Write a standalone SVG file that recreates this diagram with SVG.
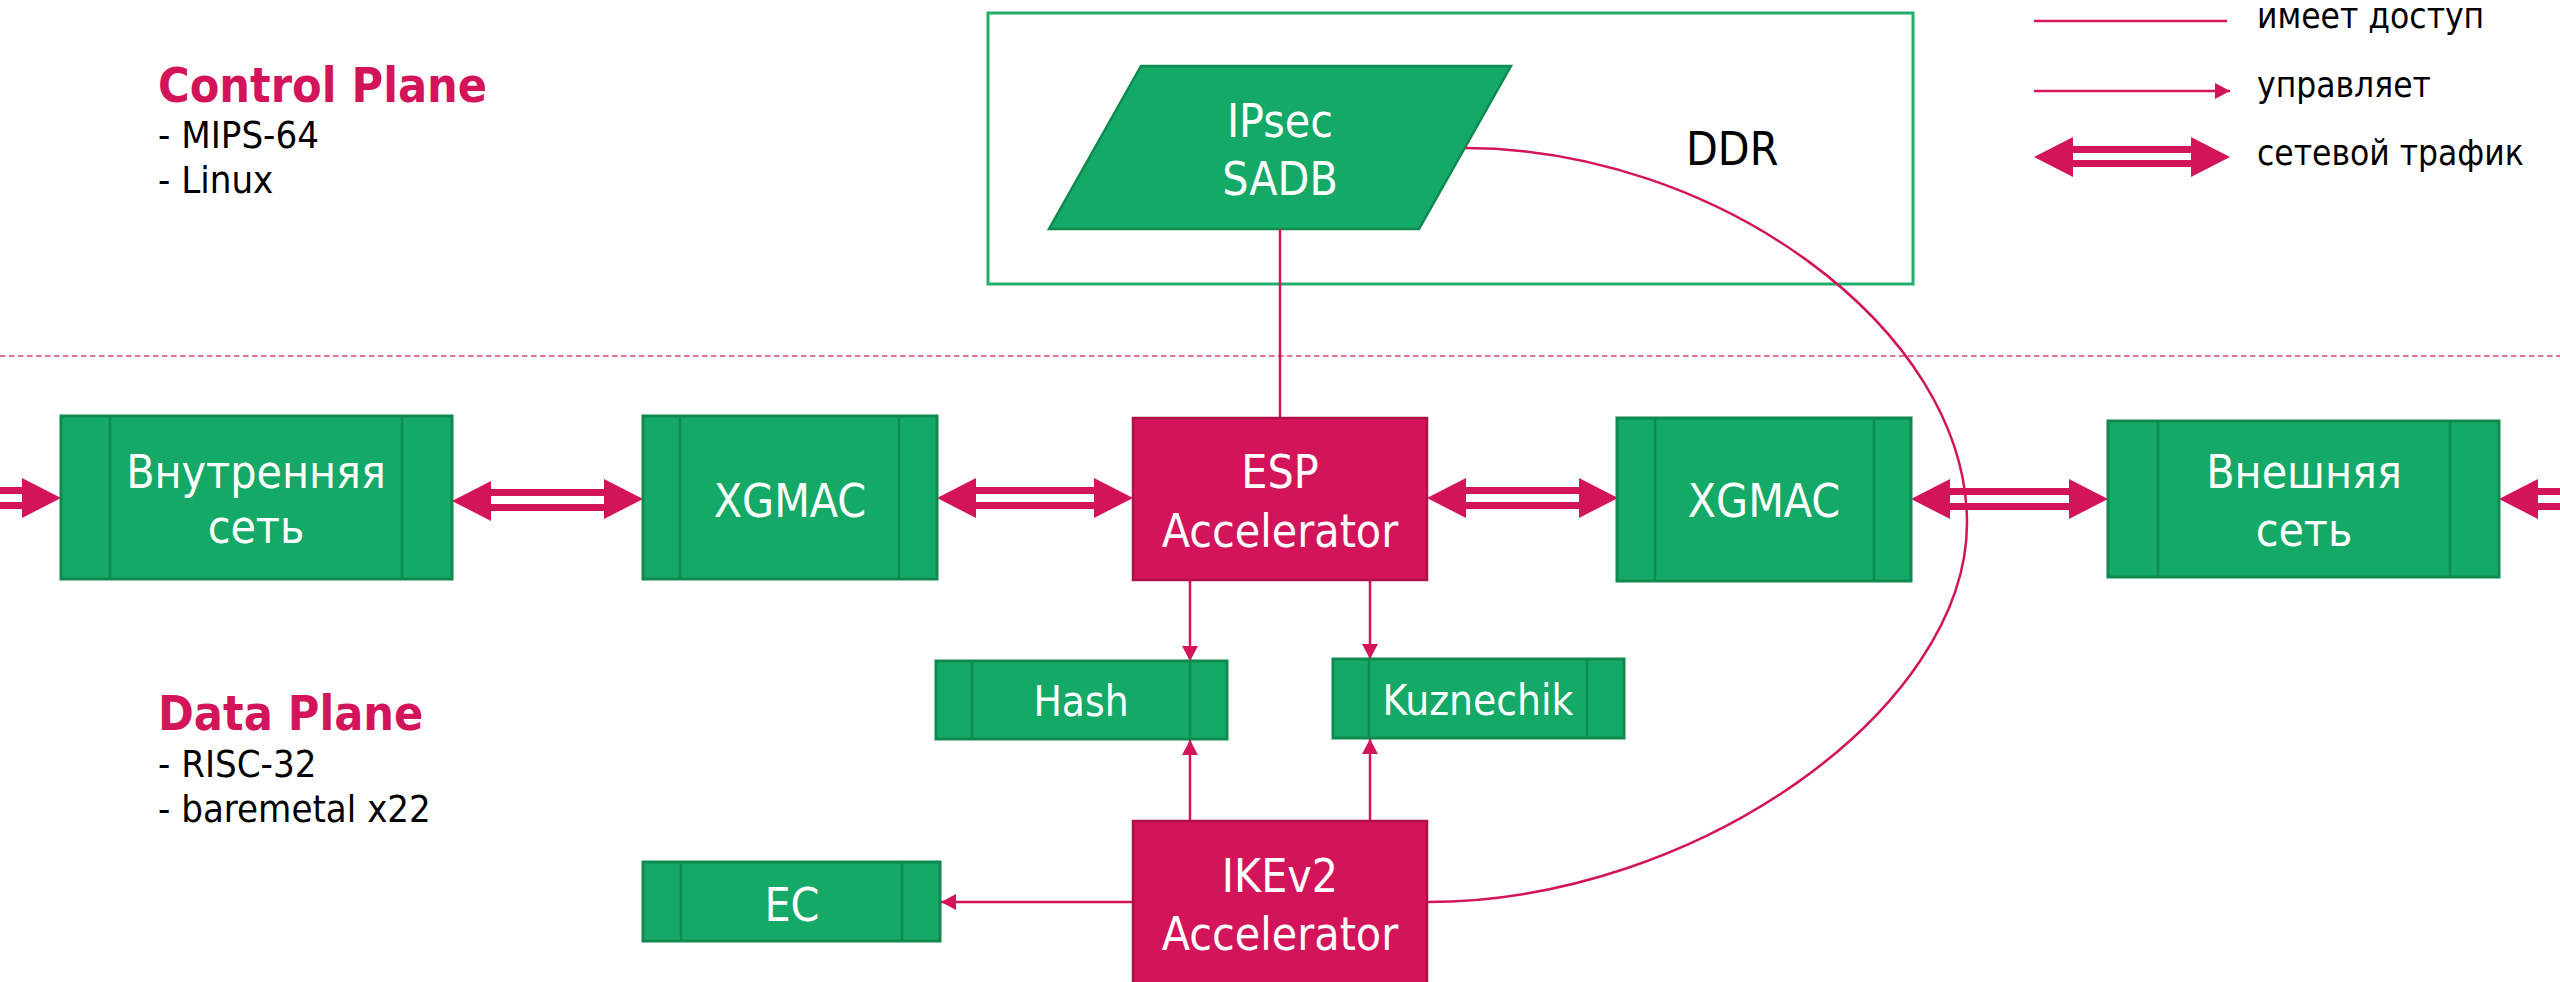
<svg xmlns="http://www.w3.org/2000/svg" width="2560" height="982" viewBox="0 0 2560 982">
<style>
text{font-family:"DejaVu Sans Condensed","DejaVu Sans",sans-serif;font-stretch:condensed}
.lbl{fill:#ffffff;font-size:46px;text-anchor:middle}
.sm{fill:#ffffff;font-size:42px;text-anchor:middle}
.blk{fill:#000000}
.title{fill:#d4145a;font-size:48px;font-weight:bold}
.sub{fill:#000000;font-size:38px}
.leg{fill:#000000;font-size:35px}
.gbox{fill:#14a966;stroke:#0f8a4f;stroke-width:3}
.gin{stroke:#0f8a4f;stroke-width:2.5}
.rbox{fill:#d4145a;stroke:#b01049;stroke-width:2.5}
.con{fill:none;stroke:#d4145a;stroke-width:2.5}
.dbl{fill:#d4145a}
</style>
<defs>
<marker id="ah" markerWidth="16" markerHeight="16" viewBox="0 0 16 16" refX="15" refY="8" orient="auto" markerUnits="userSpaceOnUse">
<path d="M0,0 L15,8 L0,16 Z" fill="#d4145a"/>
</marker>
</defs>

<!-- dashed separator -->
<line x1="0" y1="356" x2="2560" y2="356" stroke="#e0709c" stroke-width="2" stroke-dasharray="5.5,3.5"/>

<!-- plane labels -->
<g id="control-plane">
<text class="title" x="158" y="102">Control Plane</text>
<text class="sub" x="158" y="148">- MIPS-64</text>
<text class="sub" x="158" y="193">- Linux</text>
</g>
<g id="data-plane">
<text class="title" x="158" y="730">Data Plane</text>
<text class="sub" x="158" y="777">- RISC-32</text>
<text class="sub" x="158" y="822">- baremetal x22</text>
</g>

<!-- DDR -->
<g id="ddr">
<rect x="988" y="13" width="925" height="271" fill="none" stroke="#22ad6c" stroke-width="3"/>
<text class="blk" x="1686" y="165" font-size="46">DDR</text>
</g>
<g id="sadb">
<polygon points="1141,66 1511,66 1419,229 1049,229" fill="#14a966" stroke="#0f8a4f" stroke-width="2.5"/>
<text class="lbl" x="1280" y="137">IPsec</text>
<text class="lbl" x="1280" y="195">SADB</text>
</g>

<!-- connectors -->
<g id="connectors">
<line class="con" x1="1280" y1="229" x2="1280" y2="418"/>
<path class="con" d="M1465,148 C1715,148 1967,328 1967,523 C1967,708 1697,902 1427,902"/>
<line class="con" x1="1190" y1="580" x2="1190" y2="661" marker-end="url(#ah)"/>
<line class="con" x1="1370" y1="580" x2="1370" y2="659" marker-end="url(#ah)"/>
<line class="con" x1="1190" y1="821" x2="1190" y2="740" marker-end="url(#ah)"/>
<line class="con" x1="1370" y1="821" x2="1370" y2="739" marker-end="url(#ah)"/>
<line class="con" x1="1133" y1="902" x2="941" y2="902" marker-end="url(#ah)"/>
<!-- traffic double arrows -->
<g class="dbl">
<!-- left edge -> internal -->
<rect x="0" y="487" width="23" height="7"/><rect x="0" y="502" width="23" height="7"/>
<polygon points="61,498 22,478 22,518"/>
<!-- internal <-> XGMAC1 -->
<polygon points="452,501 491,481 491,521"/><polygon points="643,499 604,479 604,519"/>
<rect x="490" y="489" width="115" height="7"/><rect x="490" y="504" width="115" height="7"/>
<!-- XGMAC1 <-> ESP -->
<polygon points="937,498 976,478 976,518"/><polygon points="1133,498 1094,478 1094,518"/>
<rect x="975" y="487" width="120" height="7"/><rect x="975" y="502" width="120" height="7"/>
<!-- ESP <-> XGMAC2 -->
<polygon points="1427,498 1466,478 1466,518"/><polygon points="1618,498 1579,478 1579,518"/>
<rect x="1465" y="487" width="115" height="7"/><rect x="1465" y="502" width="115" height="7"/>
<!-- XGMAC2 <-> external -->
<polygon points="1911,499 1950,479 1950,519"/><polygon points="2108,499 2069,479 2069,519"/>
<rect x="1949" y="488" width="121" height="7"/><rect x="1949" y="503" width="121" height="7"/>
<!-- right edge -> external -->
<polygon points="2499,499 2538,479 2538,519"/>
<rect x="2537" y="488" width="23" height="7"/><rect x="2537" y="503" width="23" height="7"/>
</g>
</g>

<!-- nodes -->
<g id="internal-net">
<rect class="gbox" x="61" y="416" width="391" height="163"/>
<line class="gin" x1="110" y1="416" x2="110" y2="579"/><line class="gin" x1="402" y1="416" x2="402" y2="579"/>
<text class="lbl" x="256" y="488">Внутренняя</text>
<text class="lbl" x="256" y="543">сеть</text>
</g>
<g id="xgmac1">
<rect class="gbox" x="643" y="416" width="294" height="163"/>
<line class="gin" x1="680" y1="416" x2="680" y2="579"/><line class="gin" x1="899" y1="416" x2="899" y2="579"/>
<text class="lbl" x="790" y="517">XGMAC</text>
</g>
<g id="esp">
<rect class="rbox" x="1133" y="418" width="294" height="162"/>
<text class="lbl" x="1280" y="488">ESP</text>
<text class="lbl" x="1280" y="547">Accelerator</text>
</g>
<g id="xgmac2">
<rect class="gbox" x="1617" y="418" width="294" height="163"/>
<line class="gin" x1="1655" y1="418" x2="1655" y2="581"/><line class="gin" x1="1874" y1="418" x2="1874" y2="581"/>
<text class="lbl" x="1764" y="517">XGMAC</text>
</g>
<g id="external-net">
<rect class="gbox" x="2108" y="421" width="391" height="156"/>
<line class="gin" x1="2158" y1="421" x2="2158" y2="577"/><line class="gin" x1="2450" y1="421" x2="2450" y2="577"/>
<text class="lbl" x="2304" y="488">Внешняя</text>
<text class="lbl" x="2304" y="546">сеть</text>
</g>
<g id="hash">
<rect class="gbox" x="936" y="661" width="291" height="78"/>
<line class="gin" x1="972" y1="661" x2="972" y2="739"/><line class="gin" x1="1190" y1="661" x2="1190" y2="739"/>
<text class="sm" x="1081" y="716">Hash</text>
</g>
<g id="kuznechik">
<rect class="gbox" x="1333" y="659" width="291" height="79"/>
<line class="gin" x1="1369" y1="659" x2="1369" y2="738"/><line class="gin" x1="1587" y1="659" x2="1587" y2="738"/>
<text class="sm" x="1478" y="715">Kuznechik</text>
</g>
<g id="ikev2">
<rect class="rbox" x="1133" y="821" width="294" height="163"/>
<text class="lbl" x="1280" y="892">IKEv2</text>
<text class="lbl" x="1280" y="950">Accelerator</text>
</g>
<g id="ec">
<rect class="gbox" x="643" y="862" width="297" height="79"/>
<line class="gin" x1="681" y1="862" x2="681" y2="941"/><line class="gin" x1="902" y1="862" x2="902" y2="941"/>
<text class="lbl" x="792" y="921">EC</text>
</g>

<!-- legend -->
<g id="legend">
<line class="con" x1="2034" y1="21" x2="2227" y2="21"/>
<text class="leg" x="2257" y="28">имеет доступ</text>
<line class="con" x1="2034" y1="91" x2="2230" y2="91" marker-end="url(#ah)"/>
<text class="leg" x="2257" y="97">управляет</text>
<g class="dbl">
<polygon points="2034,157 2073,137 2073,177"/><polygon points="2230,157 2191,137 2191,177"/>
<rect x="2072" y="146" width="120" height="7"/><rect x="2072" y="160" width="120" height="7"/>
</g>
<text class="leg" x="2257" y="165">сетевой трафик</text>
</g>
</svg>
